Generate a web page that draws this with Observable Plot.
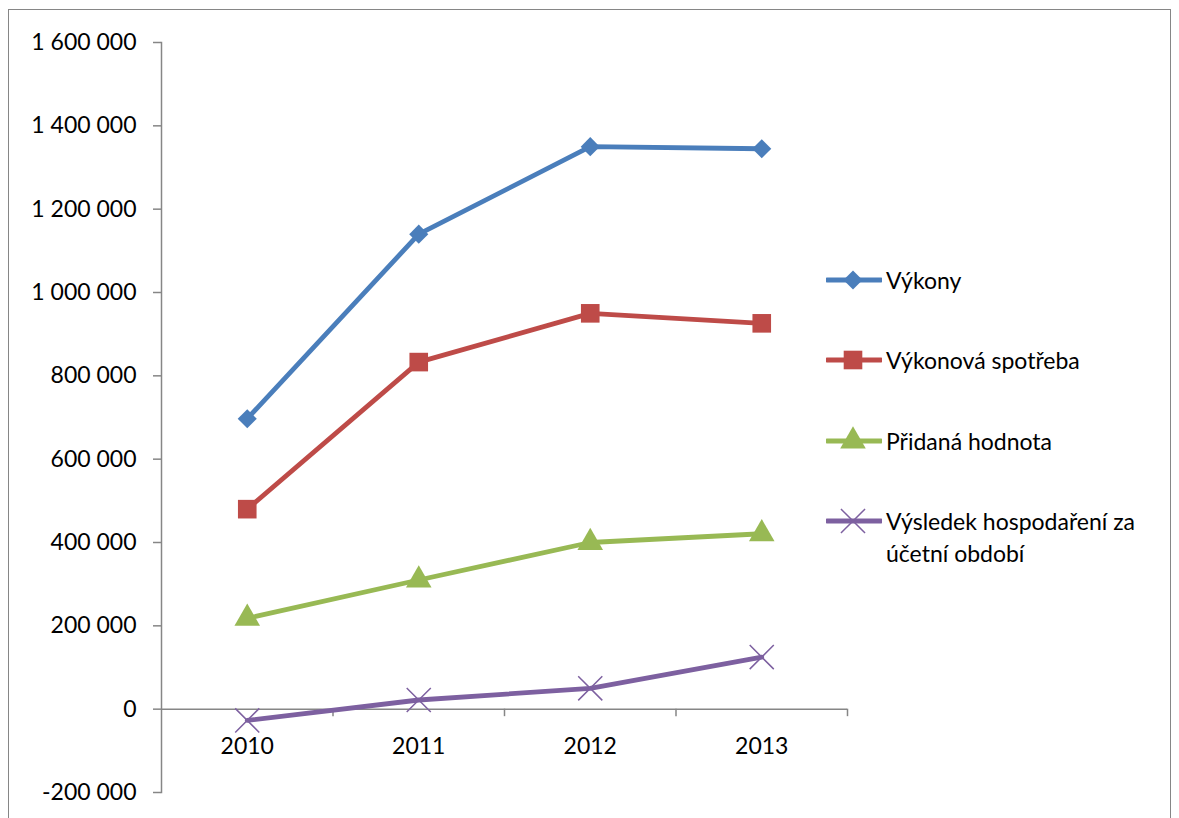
<!DOCTYPE html>
<html>
<head>
<meta charset="utf-8">
<script src="https://cdn.jsdelivr.net/npm/d3@7"></script>
<script src="https://cdn.jsdelivr.net/npm/@observablehq/plot@0.6"></script>
<style>
  html, body { margin: 0; padding: 0; background: #fff; overflow: hidden; }
  #wrap { position: relative; width: 1179px; height: 818px; font-family: Lato, "Open Sans", sans-serif; }
  #border { position: absolute; left: 8px; top: 9px; width: 1163px; height: 830px; border: 1.5px solid #868686; box-sizing: border-box; }
  #chart { position: absolute; left: 0; top: 0; }
  #legend { position: absolute; left: 826px; top: 0; font-size: 23px; color: #000; }
  .item { position: absolute; left: 0; display: flex; align-items: flex-start; white-space: nowrap; }
  .item svg { flex: none; }
  .item span { margin-left: 4px; line-height: 32px; }
</style>
</head>
<body>
<div id="wrap">
  <div id="border"></div>
  <div id="chart"></div>
  <div id="legend"></div>
</div>
<script>
const years = [2010, 2011, 2012, 2013];
const seriesNames = ["Výkony", "Výkonová spotřeba", "Přidaná hodnota", "Výsledek hospodaření za účetní období"];
const vykony = [697000, 1140000, 1350000, 1345000];
const spotreba = [480000, 833000, 950000, 926000];
const pridana = [218000, 310000, 400000, 421000];
const vysledek = [-27000, 22000, 50000, 125000];
const colors = ["#4A7EBB", "#BE4B48", "#98B954", "#7D60A0"];
const symbols = ["diamond2", "square", "triangle", "times"];
const yTicks = [-200000, 0, 200000, 400000, 600000, 800000, 1000000, 1200000, 1400000, 1600000];
const xBoundaries = [2010.5, 2011.5, 2012.5, 2013.5];

const allSeries = [vykony, spotreba, pridana, vysledek];
const data = [];
allSeries.forEach((vals, s) => vals.forEach((v, i) => data.push({series: seriesNames[s], year: years[i], value: v, idx: s})));

const fmt = d => d3.format(",")(d).replace(/,/g, " ").replace("−", "-");
const gray = "#868686";
const tickDepth = -18000;

const marks = [
  Plot.frame({anchor: "left", stroke: gray, strokeWidth: 1.5}),
  Plot.axisY({ticks: yTicks, tickFormat: fmt, tickSize: 8, tickPadding: 17, stroke: gray, strokeWidth: 1.5, fill: "#000", label: null}),
  Plot.ruleY([0], {stroke: gray, strokeWidth: 1.5}),
  Plot.ruleX(xBoundaries, {x: d => d, y1: 0, y2: tickDepth, stroke: gray, strokeWidth: 1.5}),
  Plot.text(years, {x: d => d, y: 0, dy: 37, text: d => String(d), fill: "#000"})
];
allSeries.forEach((vals, s) => {
  const sd = data.filter(d => d.idx === s);
  marks.push(Plot.line(sd, {x: "year", y: "value", stroke: colors[s], strokeWidth: 4.8}));
});
allSeries.forEach((vals, s) => {
  const sd = data.filter(d => d.idx === s);
  const r = [8.6, 10.5, 9.5, 11][s];
  if (symbols[s] === "times") {
    marks.push(Plot.dot(sd, {x: "year", y: "value", symbol: "times", r, stroke: colors[s], strokeWidth: 1.5}));
  } else {
    marks.push(Plot.dot(sd, {x: "year", y: "value", symbol: symbols[s], r, fill: colors[s], stroke: "none"}));
  }
});

const plot = Plot.plot({
  width: 1179,
  height: 818,
  marginLeft: 161,
  marginRight: 332,
  marginTop: 42,
  marginBottom: 26,
  style: {fontFamily: "Lato, 'Open Sans', sans-serif", fontSize: "23px", background: "transparent", color: "#000"},
  x: {type: "linear", domain: [2009.5, 2013.5], axis: null},
  y: {domain: [-200000, 1600000], axis: null},
  marks
});
document.getElementById("chart").appendChild(plot);

// Legend
const legend = document.getElementById("legend");
const tops = [264, 344, 425, 505];
const labelLines = [["Výkony"], ["Výkonová spotřeba"], ["Přidaná hodnota"], ["Výsledek hospodaření za", "účetní období"]];
seriesNames.forEach((name, s) => {
  const item = document.createElement("div");
  item.className = "item";
  item.style.top = tops[s] + "px";
  const sw = d3.create("svg").attr("width", 56).attr("height", 32);
  sw.append("line").attr("x1", 1).attr("x2", 55).attr("y1", 16).attr("y2", 16)
    .attr("stroke", colors[s]).attr("stroke-width", 4.8).attr("stroke-linecap", "round");
  const sym = {diamond2: d3.symbolDiamond2, square: d3.symbolSquare, triangle: d3.symbolTriangle, times: d3.symbolTimes}[symbols[s]];
  const r = [8.6, 10.5, 9.5, 11][s];
  const p = sw.append("path").attr("transform", "translate(27,16)").attr("d", d3.symbol(sym, Math.PI * r * r)());
  if (symbols[s] === "times") p.attr("fill", "none").attr("stroke", colors[s]).attr("stroke-width", 1.5);
  else p.attr("fill", colors[s]);
  item.appendChild(sw.node());
  const span = document.createElement("span");
  span.innerHTML = labelLines[s].join("<br>");
  item.appendChild(span);
  legend.appendChild(item);
});
</script>
</body>
</html>
